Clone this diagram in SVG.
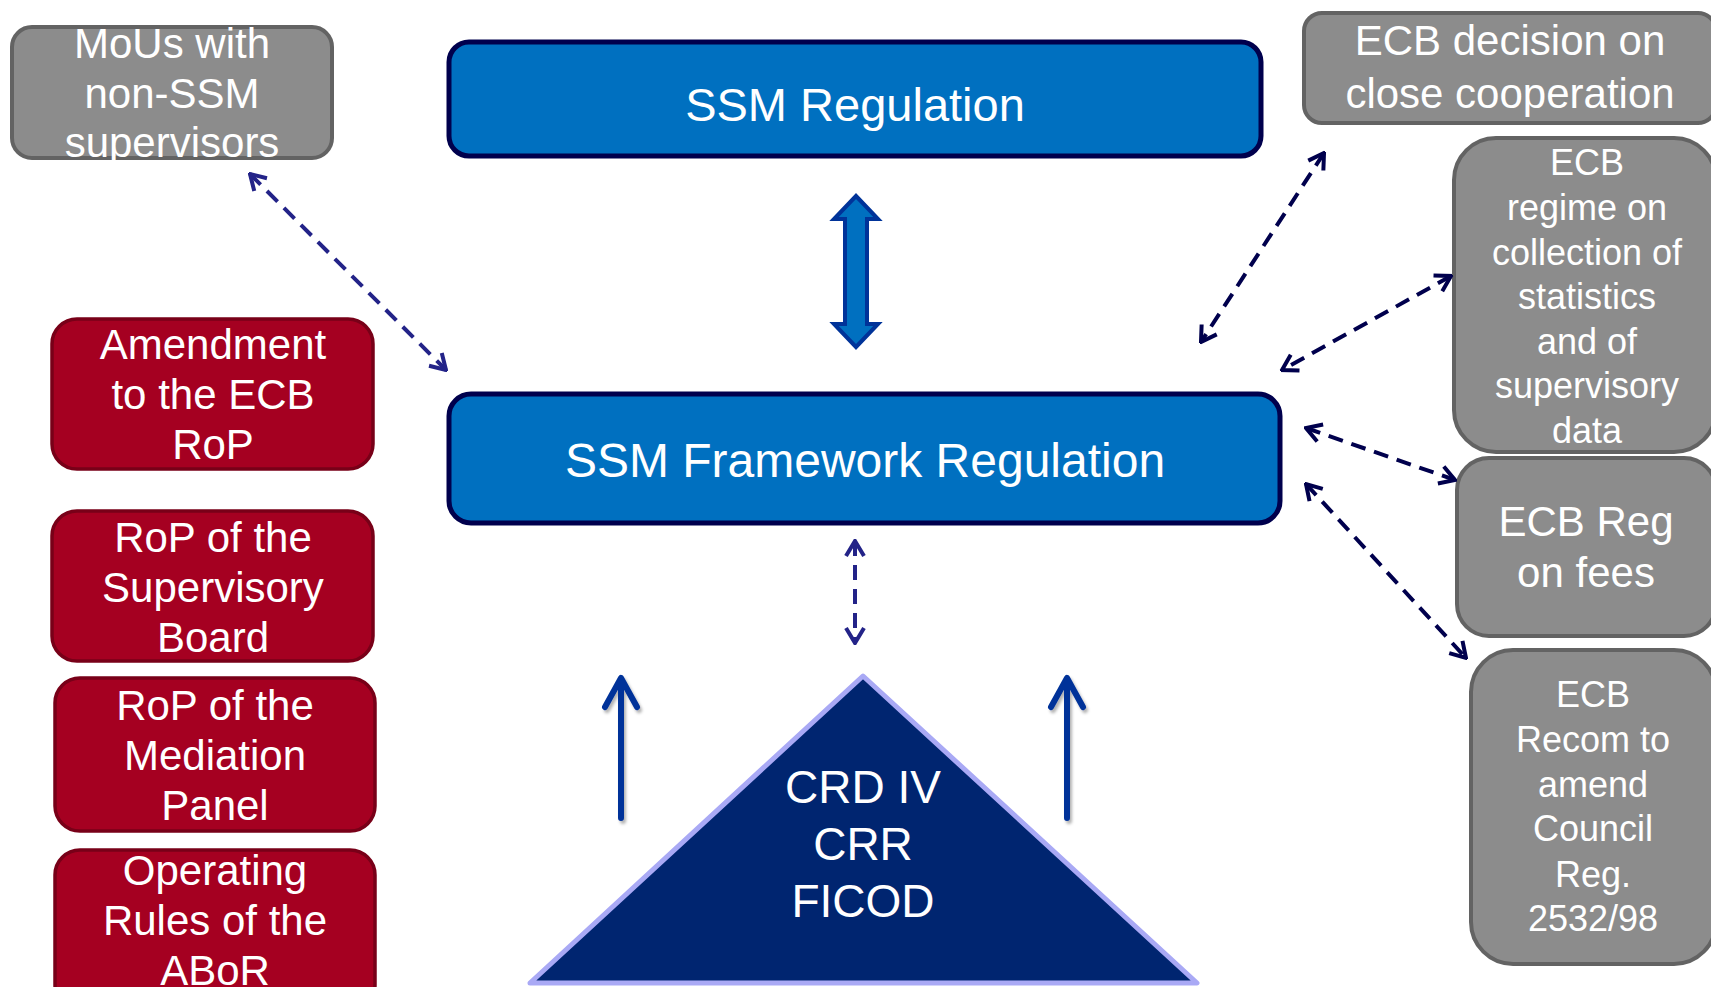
<svg xmlns="http://www.w3.org/2000/svg" width="1711" height="987" viewBox="0 0 1711 987">
<defs>
<style>
text{font-family:"Liberation Sans",Arial,sans-serif;fill:#ffffff;text-anchor:middle}
.gray{fill:#8c8c8c;stroke:#636363;stroke-width:4}
.red{fill:#a50021;stroke:#780018;stroke-width:3.5}
.blue{fill:#0070c0;stroke:#00004d;stroke-width:5}
.dash{fill:none;stroke:#00004d;stroke-width:4;stroke-dasharray:15 9}
.dashb{fill:none;stroke:#232388;stroke-width:4;stroke-dasharray:15 9}
.up{fill:none;stroke:#003399;stroke-width:6;stroke-linecap:round;stroke-linejoin:round}
.f42{font-size:42px}
.f36{font-size:36px}
</style>
<marker id="ah" viewBox="-18 -12 20 24" refX="0" refY="0" markerWidth="20" markerHeight="24" markerUnits="userSpaceOnUse" orient="auto-start-reverse">
<path d="M-15,-9 L0,0 L-15,9" fill="none" stroke="#00004d" stroke-width="4"/>
</marker>
<marker id="ahb" viewBox="-18 -12 20 24" refX="0" refY="0" markerWidth="20" markerHeight="24" markerUnits="userSpaceOnUse" orient="auto-start-reverse">
<path d="M-15,-9 L0,0 L-15,9" fill="none" stroke="#232388" stroke-width="4"/>
</marker>
<filter id="sh" x="-50%" y="-20%" width="200%" height="140%">
<feDropShadow dx="2" dy="3" stdDeviation="1.5" flood-color="#000" flood-opacity="0.3"/>
</filter>
</defs>
<rect width="1711" height="987" fill="#ffffff"/>

<g id="mous">
<rect class="gray" x="12" y="27" width="320" height="131" rx="20"/>
<text class="f42" x="172" y="58">MoUs with</text>
<text class="f42" x="172" y="108">non-SSM</text>
<text class="f42" x="172" y="157">supervisors</text>
</g>

<g id="ssm-regulation">
<rect class="blue" x="449" y="42" width="812" height="114" rx="20"/>
<text x="855" y="121" font-size="47">SSM Regulation</text>
</g>

<g id="ssm-framework">
<rect class="blue" x="449" y="394" width="831" height="129" rx="22"/>
<text x="865" y="477" font-size="48">SSM Framework Regulation</text>
</g>

<g id="ecb-decision">
<rect class="gray" x="1304" y="13" width="412" height="110" rx="18"/>
<text class="f42" x="1510" y="55">ECB decision on</text>
<text class="f42" x="1510" y="108">close cooperation</text>
</g>

<g id="ecb-regime">
<rect class="gray" x="1454" y="138" width="262" height="314" rx="42"/>
<text class="f36" x="1587" y="175">ECB</text>
<text class="f36" x="1587" y="220">regime on</text>
<text class="f36" x="1587" y="265">collection of</text>
<text class="f36" x="1587" y="309">statistics</text>
<text class="f36" x="1587" y="354">and of</text>
<text class="f36" x="1587" y="398">supervisory</text>
<text class="f36" x="1587" y="443">data</text>
</g>

<g id="ecb-fees">
<rect class="gray" x="1457" y="458" width="259" height="178" rx="32"/>
<text class="f42" x="1586" y="536">ECB Reg</text>
<text class="f42" x="1586" y="587">on fees</text>
</g>

<g id="ecb-recom">
<rect class="gray" x="1471" y="650" width="245" height="314" rx="42"/>
<text class="f36" x="1593" y="707">ECB</text>
<text class="f36" x="1593" y="752">Recom to</text>
<text class="f36" x="1593" y="797">amend</text>
<text class="f36" x="1593" y="841">Council</text>
<text class="f36" x="1593" y="887">Reg.</text>
<text class="f36" x="1593" y="931">2532/98</text>
</g>

<g id="amendment">
<rect class="red" x="52" y="319" width="321" height="150" rx="25"/>
<text class="f42" x="213" y="359">Amendment</text>
<text class="f42" x="213" y="409">to the ECB</text>
<text class="f42" x="213" y="459">RoP</text>
</g>

<g id="rop-supervisory">
<rect class="red" x="52" y="511" width="321" height="150" rx="25"/>
<text class="f42" x="213" y="552">RoP of the</text>
<text class="f42" x="213" y="602">Supervisory</text>
<text class="f42" x="213" y="652">Board</text>
</g>

<g id="rop-mediation">
<rect class="red" x="55" y="678" width="320" height="153" rx="25"/>
<text class="f42" x="215" y="720">RoP of the</text>
<text class="f42" x="215" y="770">Mediation</text>
<text class="f42" x="215" y="820">Panel</text>
</g>

<g id="operating-rules">
<rect class="red" x="55" y="850" width="320" height="160" rx="25"/>
<text class="f42" x="215" y="885">Operating</text>
<text class="f42" x="215" y="935">Rules of the</text>
<text class="f42" x="215" y="985">ABoR</text>
</g>

<g id="crd-triangle">
<polygon points="863,676 1197,983 530,983" fill="#002570" stroke="#a9a9f5" stroke-width="5" stroke-linejoin="round"/>
<text x="863" y="803" font-size="46">CRD IV</text>
<text x="863" y="860" font-size="46">CRR</text>
<text x="863" y="917" font-size="46">FICOD</text>
</g>

<g id="connectors">
<path d="M856,196 L878,219 L867,219 L867,324 L878,324 L856,347 L834,324 L845,324 L845,219 L834,219 Z" fill="#0070c0" stroke="#003399" stroke-width="4" stroke-linejoin="miter"/>
<line class="dashb" x1="250" y1="174" x2="446" y2="370" marker-start="url(#ahb)" marker-end="url(#ahb)"/>
<line class="dashb" x1="855" y1="541" x2="855" y2="643" marker-start="url(#ahb)" marker-end="url(#ahb)"/>
<line class="dash" x1="1324" y1="153" x2="1201" y2="342" marker-start="url(#ah)" marker-end="url(#ah)"/>
<line class="dash" x1="1451" y1="276" x2="1282" y2="370" marker-start="url(#ah)" marker-end="url(#ah)"/>
<line class="dash" x1="1306" y1="428" x2="1455" y2="480" marker-start="url(#ah)" marker-end="url(#ah)"/>
<line class="dash" x1="1306" y1="484" x2="1466" y2="658" marker-start="url(#ah)" marker-end="url(#ah)"/>
<g filter="url(#sh)">
<path class="up" d="M621,818 L621,679 M605,707 L621,678 L637,707"/>
<path class="up" d="M1067,818 L1067,679 M1051,707 L1067,678 L1083,707"/>
</g>
</g>
</svg>
